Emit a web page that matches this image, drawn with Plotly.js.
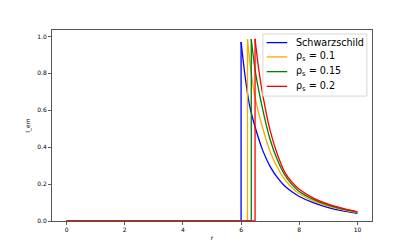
<!DOCTYPE html>
<html>
<head>
<meta charset="utf-8">
<script src="https://cdn.plot.ly/plotly-3.0.1.min.js"></script>
<style>html,body{margin:0;padding:0;background:#fff;}#chart{width:414px;height:249px;}</style>
</head>
<body>
<div id="chart"></div>
<script>
// Series names and colours
const seriesNames = ["Schwarzschild", "ρ<sub>s</sub> = 0.1", "ρ<sub>s</sub> = 0.15", "ρ<sub>s</sub> = 0.2"];
const seriesColors = ["#0000ff", "#ffa500", "#008000", "#ff0000"];

// r values and intensity values
const rSchw = [0, 6.0, 6.0, 6.15, 6.3, 6.5, 6.75, 7.0, 7.25, 7.5, 7.75, 8.0, 8.5, 9.0, 9.5, 10.0];
const iSchw = [0, 0, 0.970, 0.770, 0.620, 0.500, 0.380, 0.295, 0.235, 0.190, 0.158, 0.133, 0.098, 0.073, 0.055, 0.042];

const rRho01 = [0, 6.22, 6.22, 6.35, 6.5, 6.75, 7.0, 7.25, 7.5, 7.75, 8.0, 8.5, 9.0, 9.5, 10.0];
const iRho01 = [0, 0, 0.985, 0.800, 0.655, 0.500, 0.375, 0.290, 0.225, 0.180, 0.148, 0.108, 0.080, 0.060, 0.045];

const rRho015 = [0, 6.35, 6.35, 6.5, 6.75, 7.0, 7.25, 7.5, 7.75, 8.0, 8.5, 9.0, 9.5, 10.0];
const iRho015 = [0, 0, 0.985, 0.800, 0.600, 0.440, 0.330, 0.250, 0.197, 0.160, 0.116, 0.086, 0.064, 0.048];

const rRho02 = [0, 6.48, 6.48, 6.6, 6.75, 7.0, 7.25, 7.5, 7.75, 8.0, 8.5, 9.0, 9.5, 10.0];
const iRho02 = [0, 0, 0.987, 0.830, 0.680, 0.490, 0.360, 0.265, 0.210, 0.172, 0.123, 0.091, 0.068, 0.050];

const xTicks = [0, 2, 4, 6, 8, 10];
const yTicks = [0.0, 0.2, 0.4, 0.6, 0.8, 1.0];

const allR = [rSchw, rRho01, rRho015, rRho02];
const allI = [iSchw, iRho01, iRho015, iRho02];

const traces = [];
for (let s = 0; s < 4; s++) {
  const r = allR[s], v = allI[s];
  const k = 2; // index of the peak point
  traces.push({
    x: r.slice(0, k + 1), y: v.slice(0, k + 1), type: 'scatter', mode: 'lines',
    line: {color: seriesColors[s], width: 1.3, shape: 'linear'},
    showlegend: false, hoverinfo: 'skip'
  });
  traces.push({
    x: r.slice(k), y: v.slice(k), type: 'scatter', mode: 'lines',
    name: seriesNames[s],
    line: {color: seriesColors[s], width: 1.3, shape: 'spline', smoothing: 1},
    showlegend: false
  });
}

// Hand-built legend (matplotlib-like compact box), in plot-area paper coordinates
const legX0 = 0.659, legX1 = 0.984, legY0 = 0.654, legY1 = 0.979;
const rowY = [0.934, 0.859, 0.782, 0.705];
const shapes = [{
  type: 'rect', xref: 'paper', yref: 'paper', x0: legX0, x1: legX1, y0: legY0, y1: legY1,
  fillcolor: 'rgba(255,255,255,0.8)', line: {color: '#d6d6d6', width: 1}, layer: 'above'
}];
const annotations = [];
for (let s = 0; s < 4; s++) {
  shapes.push({
    type: 'line', xref: 'paper', yref: 'paper', x0: 0.671, x1: 0.735, y0: rowY[s], y1: rowY[s],
    line: {color: seriesColors[s], width: 1.3}, layer: 'above'
  });
  annotations.push({
    xref: 'paper', yref: 'paper', x: 0.757, y: rowY[s], xanchor: 'left', yanchor: 'middle',
    text: seriesNames[s], showarrow: false,
    font: {family: 'DejaVu Sans', size: 9.6, color: '#000'}
  });
}

const layout = {
  width: 414, height: 249,
  margin: {l: 52, r: 42, t: 30, b: 28},
  paper_bgcolor: '#ffffff', plot_bgcolor: '#ffffff',
  font: {family: 'DejaVu Sans', color: '#000'},
  showlegend: false,
  shapes: shapes,
  annotations: annotations,
  xaxis: {
    range: [-0.5, 10.5], tickvals: xTicks, ticktext: xTicks.map(String),
    ticks: 'outside', ticklen: 3, tickwidth: 0.8, tickcolor: '#333',
    tickfont: {size: 6, family: 'DejaVu Sans'},
    showgrid: false, zeroline: false,
    showline: true, mirror: true, linecolor: '#555', linewidth: 1,
    title: {text: 'r', font: {size: 6, family: 'DejaVu Sans'}, standoff: 3}
  },
  yaxis: {
    range: [0, 1.035], tickvals: yTicks, ticktext: yTicks.map(t => t.toFixed(1)),
    ticks: 'outside', ticklen: 3, tickwidth: 0.8, tickcolor: '#333',
    tickfont: {size: 6, family: 'DejaVu Sans'},
    showgrid: false, zeroline: false,
    showline: true, mirror: true, linecolor: '#555', linewidth: 1,
    title: {text: 'I_em', font: {size: 6, family: 'DejaVu Sans'}, standoff: 6}
  }
};

Plotly.newPlot('chart', traces, layout, {staticPlot: true, displayModeBar: false});
</script>
</body>
</html>
